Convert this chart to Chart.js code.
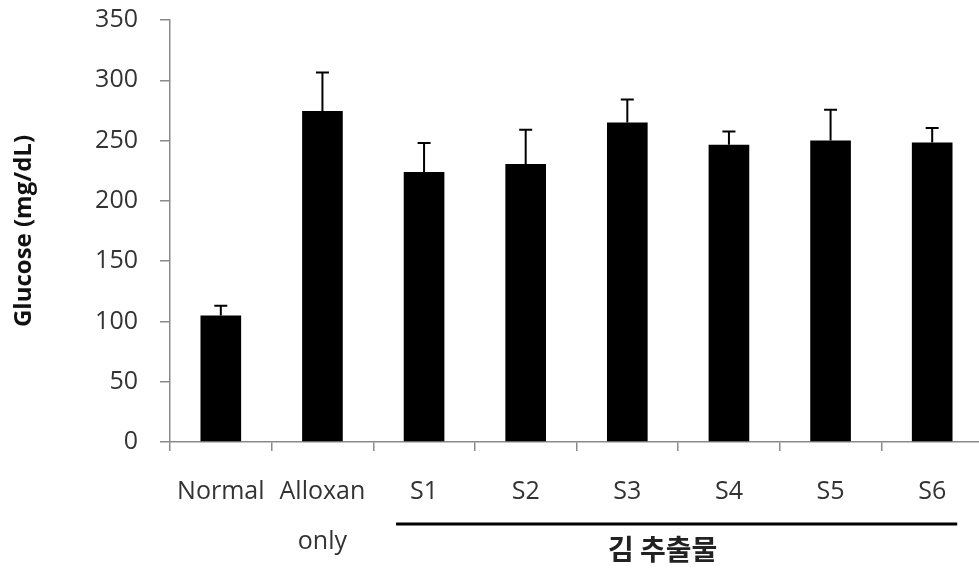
<!DOCTYPE html>
<html>
<head>
<meta charset="utf-8">
<script src="https://cdn.jsdelivr.net/npm/chart.js@4"></script>
<style>
  html, body { margin: 0; padding: 0; background: #fff; overflow: hidden; }
  #wrap { width: 983px; height: 576px; }
</style>
</head>
<body>
<div id="wrap"><canvas id="myChart"></canvas></div>
<script>
  const labels = ['Normal', ['Alloxan', 'only'], 'S1', 'S2', 'S3', 'S4', 'S5', 'S6'];
  const glucose = [105, 274.5, 224, 230.5, 265, 246.5, 250, 248.5];
  const errors  = [8, 32, 24, 28.5, 19, 11, 25.5, 12];
  const yTicks  = [0, 50, 100, 150, 200, 250, 300, 350];
  const groupLabel = '김 추출물';

  const latin = '"Open Sans", "Noto Sans CJK KR", sans-serif';

  // upward-only error bars with a cap
  const errorBars = {
    id: 'errorBars',
    afterDatasetsDraw(chart) {
      const ctx = chart.ctx;
      const y = chart.scales.y;
      const meta = chart.getDatasetMeta(0);
      ctx.save();
      ctx.strokeStyle = '#000';
      ctx.lineWidth = 2;
      meta.data.forEach((bar, i) => {
        const top = y.getPixelForValue(glucose[i] + errors[i]);
        ctx.beginPath();
        ctx.moveTo(bar.x, bar.y);
        ctx.lineTo(bar.x, top);
        ctx.moveTo(bar.x - 6.5, top);
        ctx.lineTo(bar.x + 6.5, top);
        ctx.stroke();
      });
      ctx.restore();
    }
  };

  // bracket line under S1..S6 with group name
  const groupBracket = {
    id: 'groupBracket',
    afterDraw(chart) {
      const ctx = chart.ctx;
      const x = chart.scales.x;
      const x0 = x.getPixelForValue(2) - 28;
      const x1 = x.getPixelForValue(7) + 25;
      ctx.save();
      ctx.strokeStyle = '#000';
      ctx.lineWidth = 3;
      ctx.beginPath();
      ctx.moveTo(x0, 524);
      ctx.lineTo(x1, 524);
      ctx.stroke();
      ctx.fillStyle = '#222';
      ctx.font = 'bold 28px "Noto Sans CJK KR", sans-serif';
      ctx.textAlign = 'center';
      ctx.textBaseline = 'middle';
      ctx.fillText(groupLabel, (x0 + x1) / 2 - 14, 549);
      ctx.restore();
    }
  };

  const data = {
    labels: labels,
    datasets: [{
      data: glucose,
      backgroundColor: '#000',
      borderWidth: 0,
      barPercentage: 0.8,
      categoryPercentage: 0.5
    }]
  };

  const config = {
    type: 'bar',
    data: data,
    plugins: [errorBars, groupBracket],
    options: {
      responsive: true,
      maintainAspectRatio: false,
      animation: false,
      layout: { padding: { top: 20, left: 0, right: 0, bottom: 0 } },
      plugins: { legend: { display: false }, tooltip: { enabled: false } },
      scales: {
        x: {
          grid: { offset: true, drawOnChartArea: false, tickLength: 9, color: '#8a8a8a', lineWidth: 1.5 },
          border: { color: '#8a8a8a', width: 1.5 },
          ticks: { color: '#333', font: { family: latin, size: 25, lineHeight: 2 }, padding: 16, maxRotation: 0, autoSkip: false },
          afterFit: s => { s.height = 134; }
        },
        y: {
          min: 0,
          max: 350,
          afterBuildTicks: s => { s.ticks = yTicks.map(v => ({ value: v })); },
          grid: { drawOnChartArea: false, tickLength: 10, color: '#8a8a8a', lineWidth: 1.5 },
          border: { color: '#8a8a8a', width: 1.5 },
          ticks: { color: '#333', font: { family: latin, size: 25 }, padding: 22 },
          title: {
            display: true,
            text: 'Glucose (mg/dL)',
            color: '#111',
            font: { family: latin, size: 24, weight: 'bold' },
            padding: { top: 10, bottom: 0 }
          },
          afterFit: s => {
            s.width = 170;
            s.paddingTop = 0;
            s.paddingBottom = 0;
          }
        }
      }
    }
  };

  const myChart = new Chart(document.getElementById('myChart'), config);
</script>
</body>
</html>
